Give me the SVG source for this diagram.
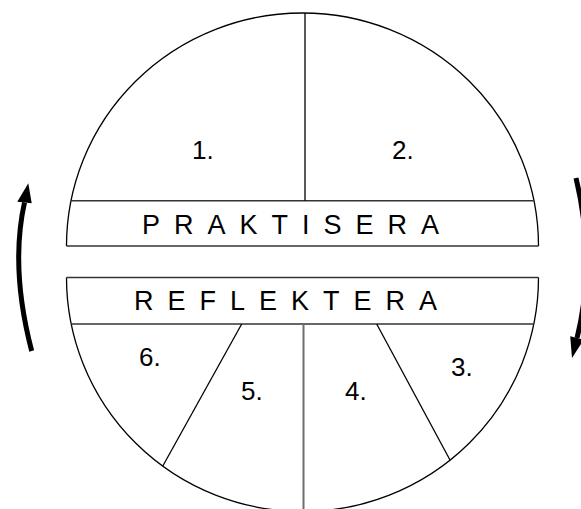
<svg xmlns="http://www.w3.org/2000/svg" width="581" height="509" viewBox="0 0 581 509">
<style>
.o{fill:none;stroke:#000;stroke-width:1.3}
.b{fill:none;stroke:#333;stroke-width:1.5}
.g{fill:none;stroke:#6e6e6e;stroke-width:2}
.n{font-family:"Liberation Sans",Arial,sans-serif;font-size:26px;fill:#000}
.t{font-family:"Liberation Sans",Arial,sans-serif;font-size:27px;letter-spacing:14px;fill:#000}
.a{fill:none;stroke:#000;stroke-width:5}
</style>
<rect width="581" height="509" fill="#fff"/>
<g id="upper">
<path class="o" d="M66.5 246 A236 233 0 0 1 538.5 246"/>
<line class="b" x1="66.5" y1="246" x2="538.5" y2="246"/>
<line class="b" x1="71" y1="200.7" x2="534" y2="200.7"/>
<line class="o" x1="305" y1="13" x2="305" y2="200.7"/>
</g>
<g id="seg1"><text class="n" x="192" y="159">1.</text></g>
<g id="seg2"><text class="n" x="392" y="159">2.</text></g>
<g id="praktisera"><text class="t" x="142" y="234">PRAKTISERA</text></g>
<g id="lower">
<path class="o" d="M66.5 277.5 A236 234 0 0 0 538.5 277.5"/>
<line class="b" x1="66.5" y1="277.5" x2="538.5" y2="277.5"/>
<line class="b" x1="71.2" y1="324" x2="533.8" y2="324"/>
<line class="g" x1="303.5" y1="324" x2="303.5" y2="512"/>
<line class="o" x1="241.7" y1="324" x2="162.8" y2="466"/>
<line class="o" x1="376.7" y1="324" x2="450" y2="460"/>
</g>
<g id="reflektera"><text class="t" x="134" y="310">REFLEKTERA</text></g>
<g id="seg3"><text class="n" x="451" y="376">3.</text></g>
<g id="seg4"><text class="n" x="345" y="400">4.</text></g>
<g id="seg5"><text class="n" x="241" y="400">5.</text></g>
<g id="seg6"><text class="n" x="139" y="366">6.</text></g>
<g id="connectors">
<path class="a" d="M31.7 351 Q10 268 24.5 202.5"/>
<polygon points="28.3,183.3 17.3,201.7 31.7,203.3" fill="#000"/>
<path class="a" d="M576 178 Q596 262 577 338"/>
<polygon points="572,358 570.2,336.3 583.8,339.7" fill="#000"/>
</g>
</svg>
